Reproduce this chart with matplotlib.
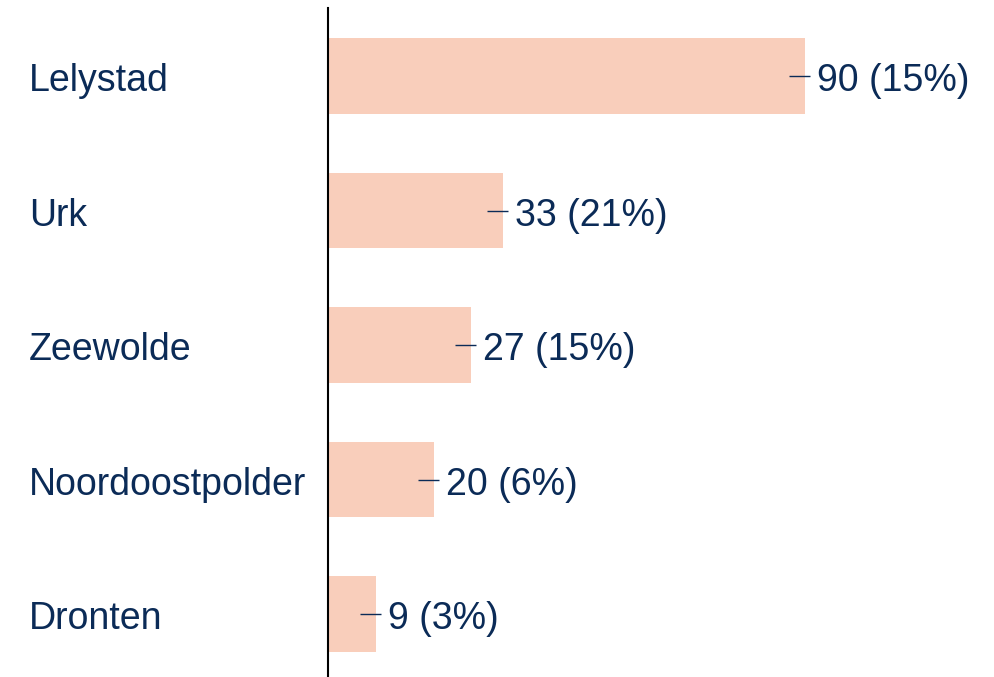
import matplotlib
matplotlib.use('Agg')
import matplotlib.pyplot as plt
from matplotlib.transforms import blended_transform_factory

# data
gemeenten = ["Lelystad", "Urk", "Zeewolde", "Noordoostpolder", "Dronten"]
aantallen = [90, 33, 27, 20, 9]
percentages = [15, 21, 15, 6, 3]

navy = "#0b2b57"
bar_color = "#f9cebb"

plt.rcParams['font.family'] = ['Liberation Sans', 'DejaVu Sans']

fig = plt.figure(figsize=(9.95, 6.77), dpi=100)
W, H = 995, 677
ax = fig.add_axes([328 / W, 0, (W - 328) / W, (H - 8) / H])

px_per_unit = 5.3
ax.set_xlim(0, (W - 328) / px_per_unit)
ax.set_ylim(-0.468, 4.506)

ypos = list(range(len(gemeenten)))[::-1]
ax.barh(ypos, aantallen, height=0.56, color=bar_color, zorder=1)

fs = 27
base_off = -11.0  # baseline sits a bit below the bar centre (points)
label_tf = blended_transform_factory(fig.transFigure, ax.transData)
for y, name, n, p in zip(ypos, gemeenten, aantallen, percentages):
    ax.annotate(name, xy=(29 / W, y), xycoords=label_tf, xytext=(0, base_off),
                textcoords='offset points', ha='left', va='baseline',
                fontsize=fs, color=navy)
    # small connector line across the bar end
    ax.hlines(y, n - 16 / px_per_unit, n + 5 / px_per_unit, color=navy,
              linewidth=1.0, zorder=2)
    ax.annotate(f"{n} ({p}%)", xy=(n, y), xytext=(8.6, base_off),
                textcoords='offset points', ha='left', va='baseline',
                fontsize=fs, color=navy)

for side in ['top', 'right', 'bottom']:
    ax.spines[side].set_visible(False)
ax.spines['left'].set_linewidth(1.5)
ax.spines['left'].set_color('black')
ax.set_xticks([])
ax.set_yticks([])

fig.savefig('out.png', dpi=100)
